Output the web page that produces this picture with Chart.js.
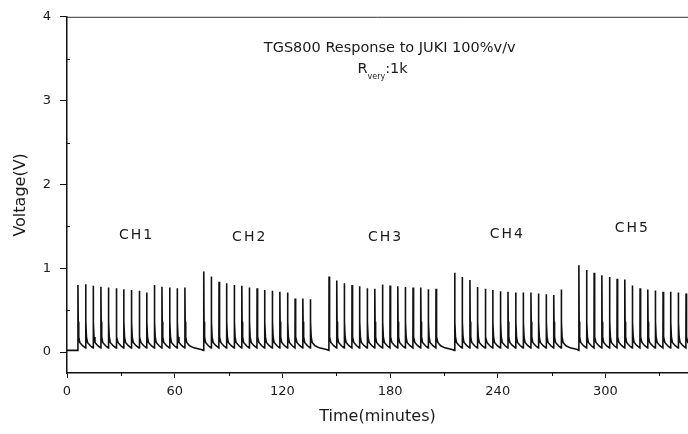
<!DOCTYPE html>
<html>
<head>
<meta charset="utf-8">
<script src="https://cdn.jsdelivr.net/npm/chart.js@4.4.1/dist/chart.umd.min.js"></script>
<style>
  html, body { margin: 0; padding: 0; background: #fff; }
  canvas { display: block; }
</style>
</head>
<body>
<canvas id="grafico" width="688" height="434"></canvas>
<script>
// tiempos (min) de cada pico y voltaje pico (V)
const ch1Tiempos = [6.1, 10.4, 14.6, 18.9, 23.1, 27.4, 31.6, 35.9, 40.2, 44.4, 48.7, 52.9, 57.2, 61.4, 65.7];
const ch1Picos   = [0.80, 0.81, 0.79, 0.78, 0.77, 0.76, 0.75, 0.74, 0.73, 0.71, 0.80, 0.78, 0.77, 0.76, 0.77];

const ch2Tiempos = [76.2, 80.4, 84.7, 88.9, 93.2, 97.4, 101.6, 105.9, 110.1, 114.4, 118.6, 122.9, 127.1, 131.4, 135.6];
const ch2Picos   = [0.96, 0.90, 0.84, 0.82, 0.80, 0.79, 0.77, 0.76, 0.74, 0.73, 0.72, 0.71, 0.64, 0.64, 0.63];

const ch3Tiempos = [146.0, 150.3, 154.5, 158.8, 163.0, 167.3, 171.5, 175.8, 180.0, 184.3, 188.5, 192.8, 197.1, 201.3, 205.6];
const ch3Picos   = [0.90, 0.855, 0.82, 0.80, 0.785, 0.76, 0.755, 0.805, 0.795, 0.785, 0.775, 0.77, 0.77, 0.75, 0.755];

const ch4Tiempos = [216.0, 220.2, 224.5, 228.7, 233.0, 237.2, 241.5, 245.7, 250.0, 254.2, 258.5, 262.7, 267.0, 271.2, 275.4];
const ch4Picos   = [0.945, 0.895, 0.86, 0.775, 0.755, 0.74, 0.725, 0.72, 0.71, 0.71, 0.71, 0.70, 0.69, 0.68, 0.745];

const ch5Tiempos = [285.2, 289.5, 293.7, 298.0, 302.3, 306.5, 310.8, 315.0, 319.3, 323.6, 327.8, 332.1, 336.3, 340.6, 344.9];
const ch5Picos   = [1.035, 0.98, 0.945, 0.915, 0.895, 0.875, 0.865, 0.795, 0.76, 0.745, 0.735, 0.72, 0.72, 0.71, 0.70];

// caida despues de cada pico: [minutos despues del pico, voltaje]
const caida = [[0.15, 0.36], [0.45, 0.18], [1.0, 0.115], [2.6, 0.075]];
const valle = 0.05;      // justo antes de cada pico
const nivelReposo = 0.02; // entre canales

const canales = ['CH1', 'CH2', 'CH3', 'CH4', 'CH5'];
const ticksX = [0, 60, 120, 180, 240, 300];
const ticksY = [0, 1, 2, 3, 4];

const tiempos = [ch1Tiempos, ch2Tiempos, ch3Tiempos, ch4Tiempos, ch5Tiempos];
const picos = [ch1Picos, ch2Picos, ch3Picos, ch4Picos, ch5Picos];

// armar la curva
let puntos = [{x: 0, y: nivelReposo}];
tiempos.forEach((ts, k) => {
    ts.forEach((t, i) => {
        puntos.push({x: t - 0.08, y: i === 0 ? nivelReposo : valle});
        puntos.push({x: t, y: picos[k][i]});
        caida.forEach(([d, v]) => puntos.push({x: t + d, y: v}));
    });
    const ultimo = ts[ts.length - 1];
    puntos.push({x: ultimo + 5, y: 0.05});
    puntos.push({x: ultimo + 9, y: 0.03});
});

// posiciones de textos (en unidades de datos)
const anclasCanal = [[38.8, 1.39], [101.8, 1.37], [177.5, 1.37], [245.3, 1.41], [315, 1.47]];

const textos = {
    id: 'textos',
    afterDraw(chart) {
        const {ctx, chartArea, scales: {x, y}} = chart;
        ctx.save();
        // linea superior del marco
        ctx.strokeStyle = '#333';
        ctx.lineWidth = 1;
        ctx.beginPath();
        ctx.moveTo(chartArea.left, chartArea.top + 0.5);
        ctx.lineTo(chartArea.right, chartArea.top + 0.5);
        ctx.stroke();

        // ticks menores
        ctx.strokeStyle = '#111';
        ctx.lineWidth = 1;
        [30, 90, 150, 210, 270, 330].forEach(v => {
            const px = Math.round(x.getPixelForValue(v)) + 0.5;
            ctx.beginPath();
            ctx.moveTo(px, chartArea.bottom);
            ctx.lineTo(px, chartArea.bottom + 3);
            ctx.stroke();
        });
        [0.5, 1.5, 2.5, 3.5].forEach(v => {
            const py = Math.round(y.getPixelForValue(v)) + 0.5;
            ctx.beginPath();
            ctx.moveTo(chartArea.left, py);
            ctx.lineTo(chartArea.left + 3, py);
            ctx.stroke();
        });

        ctx.fillStyle = '#1a1a1a';
        ctx.textBaseline = 'middle';
        ctx.textAlign = 'center';
        ctx.font = '14.5px "DejaVu Sans"';
        ctx.fillText('TGS800 Response to JUKI 100%v/v', x.getPixelForValue(179.8), y.getPixelForValue(3.62));

        // R_very:1k
        ctx.textAlign = 'left';
        let px0 = x.getPixelForValue(161.8);
        const py0 = y.getPixelForValue(3.37);
        ctx.font = '14.5px "DejaVu Sans"';
        ctx.fillText('R', px0, py0);
        px0 += ctx.measureText('R').width;
        ctx.font = '8px "DejaVu Sans"';
        ctx.fillText('very', px0, py0 + 7);
        px0 += ctx.measureText('very').width;
        ctx.font = '14.5px "DejaVu Sans"';
        ctx.fillText(':1k', px0, py0);

        ctx.textAlign = 'center';
        ctx.font = '14px "DejaVu Sans"';
        ctx.letterSpacing = '2px';
        canales.forEach((c, i) => {
            ctx.fillText(c, x.getPixelForValue(anclasCanal[i][0]), y.getPixelForValue(anclasCanal[i][1]));
        });
        ctx.restore();
    }
};

const fuenteTicks = {family: 'DejaVu Sans', size: 13};

new Chart(document.getElementById('grafico').getContext('2d'), {
    type: 'line',
    data: {
        datasets: [{
            data: puntos,
            borderColor: '#111',
            borderWidth: 1.6,
            pointRadius: 0,
            tension: 0,
            fill: false
        }]
    },
    options: {
        responsive: false,
        animation: false,
        devicePixelRatio: 1,
        layout: {padding: {top: 11, left: 0, right: 0, bottom: 0}},
        plugins: {legend: {display: false}, tooltip: {enabled: false}},
        scales: {
            x: {
                type: 'linear',
                min: 0,
                max: 346,
                afterBuildTicks: s => { s.ticks = ticksX.map(v => ({value: v})); },
                afterFit: s => { s.height = 61; },
                grid: {display: true, drawOnChartArea: false, drawTicks: true, tickLength: 5, color: '#111'},
                border: {display: true, color: '#111', width: 1.5},
                ticks: {color: '#1a1a1a', font: fuenteTicks, padding: 6, maxRotation: 0},
                title: {display: true, text: 'Time(minutes)', color: '#1a1a1a', font: {family: 'DejaVu Sans', size: 16}, padding: {top: 0, bottom: 8}}
            },
            y: {
                min: -0.25,
                max: 4,
                afterBuildTicks: s => { s.ticks = ticksY.map(v => ({value: v})); },
                afterFit: s => { s.width = 67; },
                grid: {display: true, drawOnChartArea: false, drawTicks: true, tickLength: 7, color: '#111'},
                border: {display: true, color: '#111', width: 1.5},
                ticks: {color: '#1a1a1a', font: fuenteTicks, padding: 9},
                title: {display: true, text: 'Voltage(V)', color: '#1a1a1a', font: {family: 'DejaVu Sans', size: 16}, padding: {top: 11, bottom: 0}}
            }
        }
    },
    plugins: [textos]
});
</script>
</body>
</html>
